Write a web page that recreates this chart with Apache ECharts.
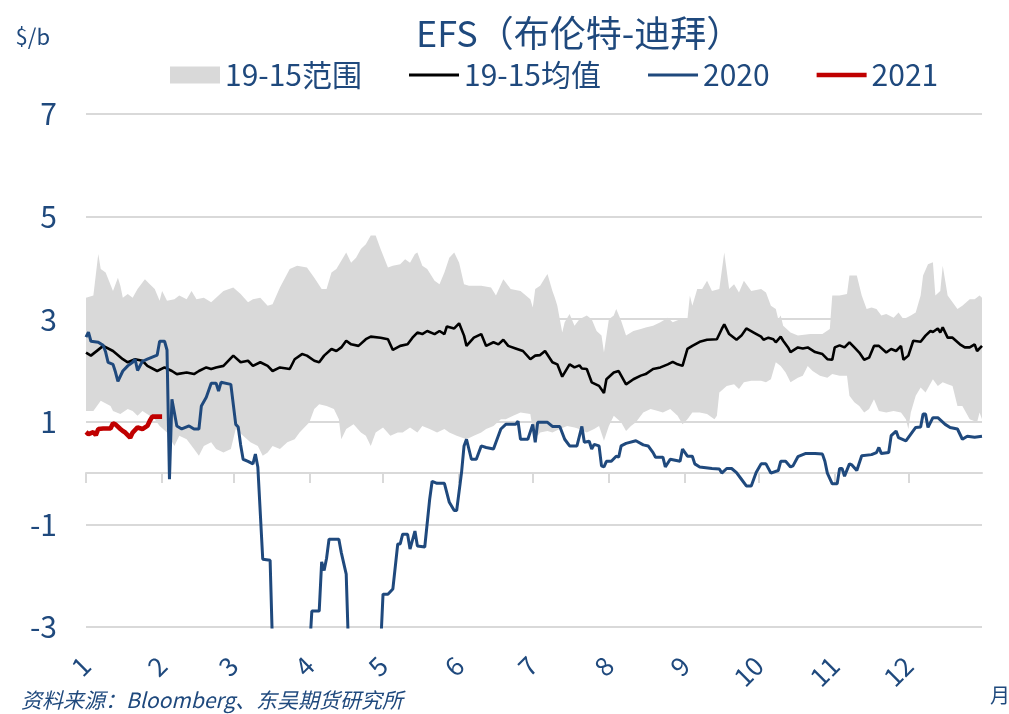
<!DOCTYPE html>
<html><head><meta charset="utf-8">
<script src="https://cdn.jsdelivr.net/npm/echarts@6/dist/echarts.min.js"></script>
<style>html,body{margin:0;padding:0;background:#fff}#c{width:1009px;height:714px}</style>
</head><body><div id="c"></div>
<script>
// ---- data (month-day, plotted on a 2020 calendar axis) ----
// 19-15 range: upper edge
const upperDates = [
 '01-01','01-04','01-06','01-07','01-09','01-12','01-14','01-15','01-16','01-18',
 '01-20','01-22','01-25','01-27','01-29','01-31','02-01','02-03','02-06','02-08',
 '02-11','02-13','02-15','02-18','02-21','02-23','02-26','03-01','03-04','03-07',
 '03-09','03-12','03-15','03-17','03-20','03-24','03-27','03-31','04-03','04-06',
 '04-08','04-10','04-12','04-14','04-16','04-18','04-20','04-22','04-24','04-26',
 '04-28','04-30','05-03','05-05','05-08','05-10','05-12','05-14','05-15','05-17',
 '05-19','05-22','05-24','05-26','05-28','05-30','06-01','06-03','06-05','06-10',
 '06-14','06-16','06-19','06-22','06-26','06-30','07-01','07-02','07-04','07-06',
 '07-07','07-09','07-10','07-11','07-13','07-14','07-16','07-18','07-20','07-23',
 '07-25','07-27','07-29','07-30','08-01','08-03','08-04','08-06','08-08','08-11',
 '08-14','08-16','08-19','08-22','08-25','08-27','08-30','09-02','09-03','09-04',
 '09-06','09-08','09-10','09-12','09-15','09-17','09-19','09-21','09-23','09-25',
 '09-28','10-02','10-04','10-06','10-08','10-09','10-10','10-11','10-14','10-17',
 '10-22','10-27','10-30','10-31','11-03','11-06','11-07','11-10','11-12','11-14',
 '11-16','11-18','11-20','11-22','11-25','11-27','11-29','12-02','12-04','12-06',
 '12-07','12-09','12-11','12-12','12-14','12-15','12-17','12-19','12-21','12-23',
 '12-26','12-28','12-30','12-31'];
const rangeUpper = [
 3.42,3.46,4.27,3.98,3.91,3.55,3.81,3.65,3.42,3.49,
 3.42,3.59,3.78,3.68,3.59,3.36,3.55,3.36,3.39,3.46,
 3.39,3.55,3.39,3.42,3.33,3.42,3.55,3.62,3.49,3.33,
 3.39,3.42,3.26,3.29,3.62,3.98,4.04,4.01,3.81,3.59,
 3.59,3.91,3.98,4.14,4.30,4.10,4.20,4.37,4.46,4.63,
 4.63,4.37,4.01,4.04,4.07,4.17,4.10,4.27,4.30,4.04,
 3.98,3.75,3.68,3.91,4.20,4.30,4.10,3.68,3.65,3.65,
 3.62,3.46,3.78,3.59,3.55,3.39,3.23,3.59,3.65,3.81,
 3.88,3.55,3.42,3.26,2.74,2.94,3.10,2.87,3.00,3.07,
 3.00,2.77,2.68,2.35,3.00,3.07,3.20,2.97,2.68,2.77,
 2.81,2.84,2.87,2.94,3.03,2.94,3.00,3.00,3.46,3.26,
 3.59,3.59,3.75,3.55,3.59,4.30,3.59,3.68,3.52,3.75,
 3.55,3.59,3.52,3.26,3.20,3.00,3.07,2.87,2.74,2.68,
 2.71,2.71,2.81,3.46,3.46,3.49,3.85,3.85,3.46,3.20,
 3.23,3.20,3.07,3.10,3.03,3.13,3.00,3.07,3.13,3.46,
 3.85,4.07,4.11,3.46,3.55,4.04,3.46,3.33,3.20,3.26,
 3.39,3.39,3.46,3.42];
// 19-15 range: lower edge
const lowerDates = [
 '01-01','01-04','01-07','01-11','01-12','01-15','01-18','01-20','01-22','01-24',
 '01-27','01-29','01-31','02-03','02-06','02-08','02-11','02-14','02-16','02-18',
 '02-21','02-23','02-26','02-29','03-02','03-05','03-08','03-11','03-13','03-15',
 '03-17','03-20','03-23','03-26','03-28','04-01','04-03','04-05','04-08','04-11',
 '04-13','04-14','04-16','04-19','04-22','04-24','04-26','04-28','05-01','05-04',
 '05-07','05-09','05-12','05-15','05-17','05-20','05-23','05-26','05-28','05-31',
 '06-04','06-07','06-10','06-12','06-15','06-18','06-20','06-23','06-26','06-30',
 '07-01','07-03','07-04','07-07','07-09','07-12','07-15','07-18','07-20','07-23',
 '07-26','07-28','07-30','08-01','08-03','08-06','08-08','08-10','08-12','08-15',
 '08-18','08-21','08-23','08-26','08-29','08-31','09-02','09-04','09-07','09-10',
 '09-13','09-14','09-15','09-18','09-21','09-23','09-25','09-28','10-02','10-04',
 '10-06','10-08','10-10','10-12','10-14','10-17','10-19','10-21','10-23','10-26',
 '10-29','10-31','11-03','11-06','11-07','11-09','11-11','11-13','11-15','11-17',
 '11-19','11-22','11-25','11-28','11-30','12-01','12-02','12-04','12-06','12-08',
 '12-11','12-13','12-15','12-17','12-19','12-21','12-23','12-26','12-29','12-30',
 '12-31'];
const rangeLower = [
 1.21,1.21,1.41,1.31,1.21,1.15,1.25,1.21,1.12,1.21,
 1.12,1.05,0.92,0.79,0.53,0.73,0.66,0.47,0.34,0.53,
 0.60,0.47,0.40,0.47,0.86,0.73,0.60,0.53,0.34,0.40,
 0.53,0.47,0.60,0.66,0.79,0.99,1.25,1.34,1.31,1.25,
 1.05,0.66,0.86,0.95,0.79,0.73,0.53,0.79,0.89,0.73,
 0.79,0.79,0.89,0.79,0.92,0.86,0.79,0.86,0.79,0.73,
 0.66,0.73,0.79,0.86,0.92,1.05,1.05,1.12,1.18,1.15,
 0.86,0.73,0.79,0.82,0.79,0.86,0.92,0.89,0.86,0.79,
 0.86,0.92,0.63,0.92,1.12,0.99,0.82,0.92,0.99,1.18,
 1.25,1.21,1.18,1.25,1.12,0.95,1.05,1.18,1.18,1.15,
 1.05,1.12,1.57,1.70,1.73,1.64,1.77,1.80,1.80,1.77,
 1.83,2.16,2.09,1.96,1.77,1.86,1.90,2.09,1.99,1.90,
 1.86,1.93,1.90,1.90,1.51,1.38,1.31,1.18,1.25,1.44,
 1.21,1.18,1.21,1.18,1.05,0.86,1.18,1.51,1.67,1.57,
 1.83,1.70,1.77,1.73,1.70,1.31,1.31,1.05,0.99,1.18,
 1.05];
// 19-15 average
const avgDates = [
 '01-01','01-03','01-08','01-12','01-16','01-18','01-21','01-24','01-26','01-30',
 '02-02','02-05','02-07','02-11','02-14','02-16','02-19','02-21','02-23','02-26',
 '03-01','03-04','03-07','03-09','03-12','03-15','03-17','03-20','03-24','03-26',
 '03-29','03-31','04-03','04-05','04-07','04-10','04-12','04-14','04-16','04-18',
 '04-21','04-24','04-26','04-30','05-03','05-05','05-08','05-11','05-13','05-15',
 '05-17','05-19','05-22','05-24','05-26','05-27','05-30','06-01','06-03','06-04',
 '06-07','06-10','06-12','06-15','06-17','06-19','06-21','06-24','06-27','06-30',
 '07-02','07-04','07-06','07-09','07-11','07-13','07-16','07-18','07-20','07-21',
 '07-23','07-25','07-28','07-30','07-31','08-03','08-05','08-08','08-11','08-14',
 '08-16','08-19','08-22','08-25','08-27','08-29','08-31','09-02','09-04','09-07',
 '09-10','09-14','09-16','09-17','09-19','09-22','09-24','09-26','09-29','10-02',
 '10-03','10-05','10-07','10-08','10-10','10-11','10-13','10-14','10-17','10-19',
 '10-21','10-24','10-27','10-29','10-31','11-01','11-03','11-05','11-07','11-09',
 '11-11','11-13','11-15','11-17','11-19','11-22','11-24','11-26','11-28','11-29',
 '12-01','12-03','12-06','12-08','12-10','12-11','12-13','12-14','12-15','12-17',
 '12-19','12-22','12-24','12-26','12-28','12-29','12-31'];
const avg1915 = [
 2.35,2.29,2.48,2.38,2.22,2.16,2.22,2.19,2.09,1.99,
 2.06,1.99,1.93,1.96,1.93,1.99,2.06,2.03,2.06,2.09,
 2.29,2.16,2.19,2.09,2.16,2.09,1.99,2.06,2.03,2.22,
 2.32,2.29,2.19,2.16,2.29,2.42,2.38,2.45,2.58,2.51,
 2.48,2.61,2.66,2.64,2.61,2.40,2.48,2.51,2.64,2.74,
 2.71,2.77,2.71,2.77,2.71,2.86,2.82,2.92,2.68,2.48,
 2.64,2.71,2.48,2.55,2.51,2.60,2.48,2.43,2.38,2.22,
 2.29,2.30,2.38,2.16,2.12,1.88,2.12,2.06,2.10,2.04,
 2.03,1.77,1.70,1.56,1.83,1.96,1.99,1.73,1.83,1.90,
 1.93,2.03,2.06,2.12,2.17,2.12,2.09,2.42,2.48,2.56,
 2.60,2.61,2.81,2.90,2.71,2.60,2.68,2.82,2.74,2.66,
 2.60,2.64,2.61,2.55,2.66,2.58,2.45,2.36,2.45,2.43,
 2.45,2.36,2.32,2.22,2.21,2.45,2.49,2.45,2.55,2.45,
 2.35,2.21,2.25,2.48,2.48,2.35,2.42,2.38,2.48,2.21,
 2.29,2.58,2.56,2.68,2.77,2.75,2.82,2.74,2.84,2.64,
 2.64,2.51,2.45,2.45,2.51,2.38,2.48];

const dates2020 = [
 '01-01','01-02','01-03','01-06','01-08','01-09','01-10','01-12','01-13','01-14',
 '01-16','01-18','01-20','01-21','01-22','01-24','01-26','01-28','01-30','01-31',
 '02-02','02-03','02-04','02-05','02-07','02-09','02-12','02-14','02-16','02-17',
 '02-19','02-21','02-23','02-24','02-25','02-29','03-02','03-03','03-04','03-05',
 '03-07','03-09','03-10','03-11','03-13','03-16','03-17','03-24','04-01','04-02',
 '04-05','04-06','04-07','04-08','04-09','04-13','04-14','04-16','04-17','04-20',
 '04-30','05-01','05-03','05-05','05-07','05-08','05-09','05-11','05-12','05-14',
 '05-15','05-18','05-20','05-21','05-23','05-26','05-28','05-30','05-31','06-02',
 '06-03','06-04','06-06','06-08','06-10','06-12','06-15','06-16','06-18','06-20',
 '06-24','06-25','06-26','06-29','07-01','07-02','07-03','07-07','07-09','07-12',
 '07-14','07-16','07-19','07-21','07-22','07-24','07-25','07-26','07-28','07-29',
 '07-30','07-31','08-02','08-04','08-05','08-06','08-08','08-12','08-15','08-17',
 '08-19','08-20','08-23','08-24','08-26','08-30','08-31','09-02','09-04','09-05',
 '09-07','09-12','09-15','09-16','09-18','09-20','09-22','09-24','09-26','09-28',
 '09-30','10-02','10-04','10-06','10-09','10-10','10-12','10-14','10-15','10-17',
 '10-20','10-24','10-27','10-28','10-29','10-31','11-02','11-03','11-04','11-05',
 '11-07','11-08','11-10','11-12','11-16','11-18','11-19','11-20','11-23','11-24',
 '11-26','11-27','11-30','12-02','12-04','12-06','12-07','12-08','12-09','12-11',
 '12-13','12-16','12-18','12-21','12-23','12-25','12-28','12-31'];
const values2020 = [
 2.65,2.75,2.57,2.55,2.49,2.36,2.16,2.12,1.97,1.79,
 1.99,2.09,2.16,2.22,2.00,2.18,2.22,2.26,2.30,2.57,
 2.57,2.40,-0.12,1.44,0.92,0.86,0.92,0.86,0.86,1.31,
 1.48,1.75,1.75,1.60,1.77,1.73,0.95,0.90,0.55,0.27,
 0.23,0.18,0.37,0.12,-1.68,-1.70,-3.40,-5.00,-3.50,-2.69,
 -2.69,-1.73,-1.90,-1.66,-1.29,-1.29,-1.55,-1.97,-3.50,-4.00,
 -3.40,-2.36,-2.36,-2.26,-1.38,-1.38,-1.19,-1.19,-1.48,-1.13,
 -1.42,-1.44,-0.51,-0.16,-0.20,-0.20,-0.57,-0.73,-0.73,0.02,
 0.53,0.66,0.27,0.27,0.53,0.50,0.47,0.60,0.86,0.95,
 0.95,1.01,0.66,0.66,0.95,0.60,0.99,0.99,0.91,0.91,
 0.66,0.53,0.53,0.91,0.60,0.62,0.47,0.56,0.53,0.14,
 0.12,0.23,0.23,0.33,0.31,0.53,0.58,0.63,0.55,0.53,
 0.40,0.31,0.31,0.12,0.27,0.23,0.47,0.33,0.33,0.18,
 0.12,0.09,0.08,0.00,0.09,0.09,0.01,-0.12,-0.25,-0.25,
 0.01,0.18,0.18,0.00,0.05,0.23,0.23,0.12,0.14,0.32,
 0.38,0.38,0.37,0.23,0.00,-0.21,-0.21,0.09,0.09,-0.06,
 0.18,0.16,0.05,0.34,0.36,0.40,0.50,0.38,0.40,0.73,
 0.82,0.69,0.63,0.76,0.89,0.90,1.15,1.15,0.89,1.08,
 1.08,0.95,0.89,0.86,0.66,0.72,0.70,0.72];

const dates2021 = ['01-01','01-02','01-04','01-05','01-06','01-08','01-11','01-12','01-13','01-15',
 '01-16','01-17','01-19','01-20','01-22','01-24','01-26','01-27','01-28','01-30','02-01'];
const values2021 = [0.80,0.76,0.80,0.74,0.86,0.87,0.87,0.97,0.95,0.86,
 0.82,0.79,0.69,0.79,0.89,0.86,0.92,1.02,1.10,1.10,1.10];

const monthLabels = ['1','2','3','4','5','6','7','8','9','10','11','12'];
const yTicks = [-3,-1,1,3,5,7];
const seriesNames = ['19-15范围','19-15均值','2020','2021'];

// ---- build ----
const DAY = 86400000;
function toTime(md){ const p = md.split('-'); return new Date(2020, +p[0]-1, +p[1]).getTime(); }
const upperPts = upperDates.map((d,i)=>[toTime(d), rangeUpper[i]]);
const lowerPts = lowerDates.map((d,i)=>[toTime(d), rangeLower[i]]);
const bandData = upperPts.concat(lowerPts);
const avgData = avgDates.map((d,i)=>[toTime(d), avg1915[i]]);
const data2020 = dates2020.map((d,i)=>[toTime(d), values2020[i]]);
const data2021 = dates2021.map((d,i)=>[toTime(d), values2021[i]]);
const monthStarts = monthLabels.map((m,i)=>new Date(2020, i, 1).getTime());

const FONT = "'Noto Sans CJK SC', 'Noto Sans', sans-serif";
const TXT = '#1F497D';
function lineIcon(t){ const a = 8.5 - t/2, b = 8.5 + t/2;
  return 'path://M0,0M0,'+a+'L50,'+a+'L50,'+b+'L0,'+b+'ZM50,17'; }
const xMin = toTime('01-01'), xMax = toTime('12-31');
function monthFmt(v){
  const d = new Date(typeof v === 'object' && v !== null && 'value' in v ? v.value : v);
  return (d.getDate() === 1 && d.getFullYear() === 2020) ? monthLabels[d.getMonth()] : '';
}

const chart = echarts.init(document.getElementById('c'), null, {renderer:'canvas'});
chart.setOption({
  animation: false,
  backgroundColor: '#fff',
  textStyle: {fontFamily: FONT},
  title: [
    {text: 'EFS（布伦特-迪拜）', left: 411, top: 10,
     textStyle: {fontSize: 36, fontWeight: 'normal', color: TXT, fontFamily: FONT}},
    {text: '资料来源：Bloomberg、东吴期货研究所', left: 16, top: 685,
     textStyle: {fontSize: 21, fontWeight: 'normal', fontStyle: 'italic', color: TXT, fontFamily: FONT}}
  ],
  graphic: [{type: 'text', left: 990, top: 685,
    style: {text: '月', fontSize: 20, fill: TXT, fontFamily: FONT}}],
  legend: {
    left: 165, top: 55, itemWidth: 50, itemHeight: 17, itemGap: 47,
    textStyle: {fontSize: 30, color: TXT, fontFamily: FONT},
    data: [
      {name: seriesNames[0], icon: 'rect', itemStyle: {color: '#d9d9d9', borderWidth: 0}},
      {name: seriesNames[1], icon: lineIcon(3), itemStyle: {color: '#000000', borderWidth: 0}},
      {name: seriesNames[2], icon: lineIcon(3), itemStyle: {color: '#1F497D', borderWidth: 0}},
      {name: seriesNames[3], icon: lineIcon(4.5), itemStyle: {color: '#C00000', borderWidth: 0}}
    ]
  },
  grid: {left: 86, right: 27, top: 114, bottom: 87, containLabel: false, outerBoundsMode: 'none'},
  xAxis: [
    {
      type: 'time', min: xMin, max: xMax,
      splitNumber: 12, minInterval: 28*DAY, maxInterval: 31*DAY,
      axisLine: {onZero: true, lineStyle: {color: '#d9d9d9', width: 2}},
      axisTick: {show: true, length: 10, customValues: monthStarts, lineStyle: {color: '#d9d9d9', width: 2}},
      splitLine: {show: false},
      axisLabel: {show: false}
    },
    {
      type: 'time', min: xMin, max: xMax, position: 'bottom',
      splitNumber: 12, minInterval: 28*DAY, maxInterval: 31*DAY,
      axisLine: {show: false, onZero: false}, axisTick: {show: false}, splitLine: {show: false},
      axisLabel: {
        show: true, rotate: 45, margin: 34, fontSize: 26, color: TXT, fontFamily: FONT,
        interval: 0, hideOverlap: false, showMinLabel: true, showMaxLabel: false,
        formatter: monthFmt
      }
    }
  ],
  yAxis: {
    type: 'value', min: yTicks[0], max: yTicks[yTicks.length-1], interval: 2,
    axisLine: {show: false}, axisTick: {show: false},
    axisLabel: {fontSize: 30, color: TXT, margin: 29, fontFamily: FONT},
    splitLine: {lineStyle: {color: '#d9d9d9', width: 2}},
    name: '$/b', nameLocation: 'end', nameGap: 66,
    nameTextStyle: {fontSize: 22, color: TXT, align: 'right', padding: [0, 36, 0, 0], fontFamily: FONT}
  },
  series: [
    {
      type: 'custom', name: seriesNames[0], data: bandData,
      encode: {x: 0, y: 1},
      itemStyle: {color: '#d9d9d9'},
      renderItem: function(params, api){
        if (params.dataIndex !== 0) return null;
        const pts = [];
        for (let i = 0; i < upperPts.length; i++) pts.push(api.coord(upperPts[i]));
        for (let i = lowerPts.length - 1; i >= 0; i--) pts.push(api.coord(lowerPts[i]));
        return {type: 'polygon', shape: {points: pts}, style: {fill: '#d9d9d9'}};
      },
      z: 1
    },
    {type: 'line', name: seriesNames[1], data: avgData, symbol: 'none',
     itemStyle: {color: '#000000'}, lineStyle: {color: '#000000', width: 2.6}, z: 3},
    {type: 'line', name: seriesNames[2], data: data2020, symbol: 'none',
     itemStyle: {color: '#1F497D'}, lineStyle: {color: '#1F497D', width: 3}, z: 4},
    {type: 'line', name: seriesNames[3], data: data2021, symbol: 'none',
     itemStyle: {color: '#C00000'}, lineStyle: {color: '#C00000', width: 4.6}, z: 5}
  ]
});
</script></body></html>
